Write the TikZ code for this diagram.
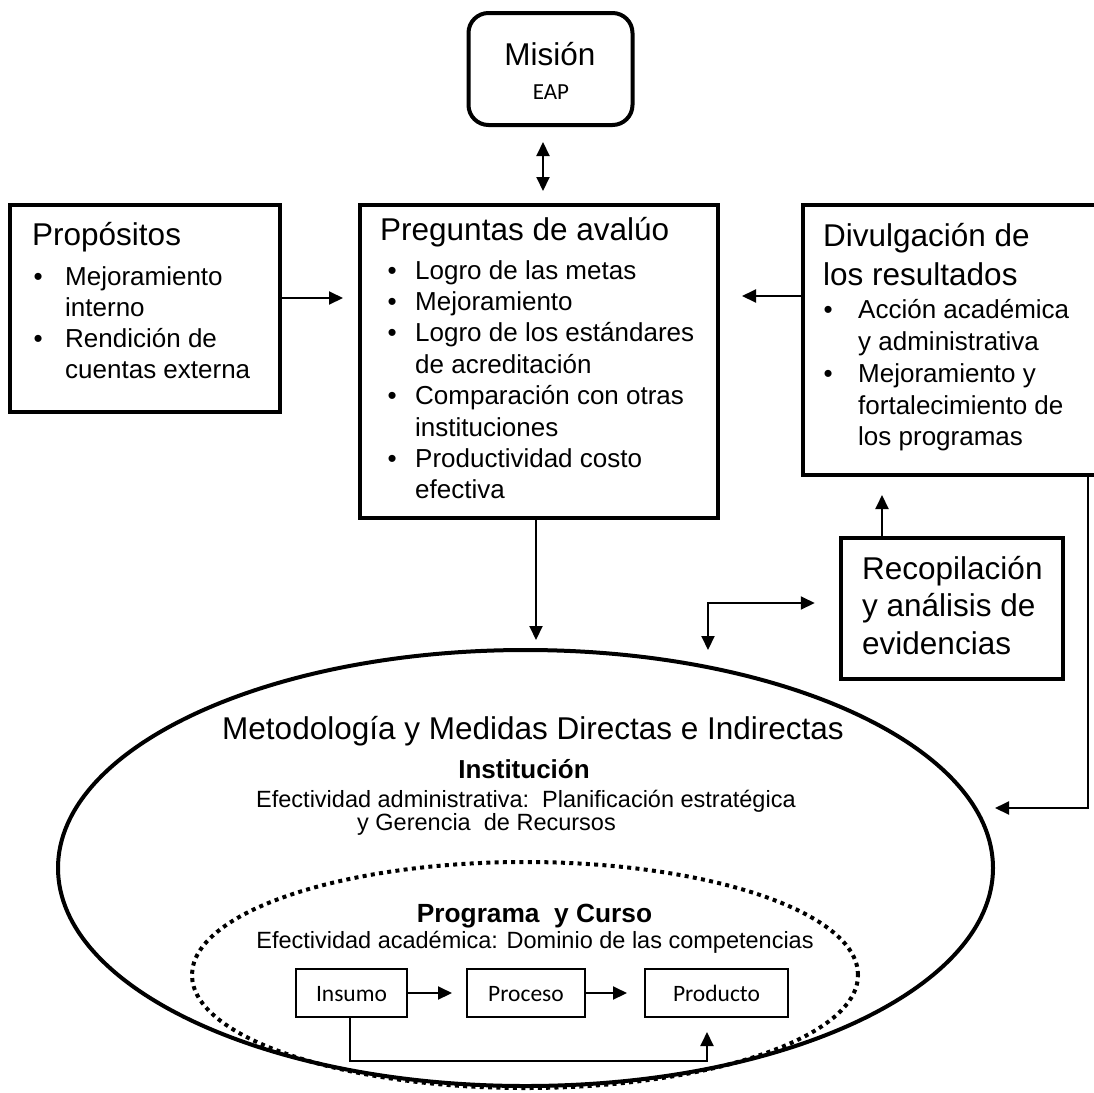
\documentclass[tikz,border=0pt]{standalone}
\usepackage{fontspec}
\setmainfont{Liberation Sans}
\newfontfamily\calfont{Carlito}
\usetikzlibrary{arrows.meta,shapes.geometric}
\newcommand{\hd}{\fontsize{31.5}{38}\selectfont}
\newcommand{\bd}{\fontsize{26}{31}\selectfont}
\newcommand{\sm}{\fontsize{23.5}{28}\selectfont}
\newcommand{\bu}[1]{\llap{•\hspace{#1pt}}}
\begin{document}
\begin{tikzpicture}[x=1pt,y=-1pt,
  thickbox/.style={draw, line width=4pt, inner sep=0pt},
  smallbox/.style={draw, line width=2pt, inner sep=0pt, minimum height=48pt, text height=16pt, text depth=0pt, font=\calfont\fontsize{23.5}{28}\selectfont},
  txt/.style={inner sep=0pt, anchor=base west},
  arr/.style={line width=2pt, -{Triangle[length=14pt,width=13pt]}},
  dbl/.style={line width=2pt, {Triangle[length=14pt,width=13pt]}-{Triangle[length=14pt,width=13pt]}}]
\useasboundingbox (0,0) rectangle (1094,1092);
\clip (0,0) rectangle (1094,1092);
\fill[white] (0,0) rectangle (1094,1092);

% boxes
\node[thickbox, rounded corners=20pt, minimum width=164pt, minimum height=112pt] (mision) at (550.5,69) {};
\node[thickbox, minimum width=270pt, minimum height=207pt] (prop) at (145,308.5) {};
\node[thickbox, minimum width=358pt, minimum height=313pt] (preg) at (539,361.5) {};
\node[thickbox, minimum width=297pt, minimum height=270pt] (divul) at (951.5,340) {};
\node[thickbox, line width=4.5pt, minimum width=222pt, minimum height=141pt] (recop) at (952,608.5) {};
\node[draw, ellipse, line width=4pt, dash pattern=on 4pt off 4.3pt, minimum width=666pt, minimum height=226pt, inner sep=0pt] (dot) at (525,975) {};
\node[draw, ellipse, line width=4pt, minimum width=935pt, minimum height=436pt, inner sep=0pt] (big) at (525.5,868) {};
\node[smallbox, minimum width=111pt] (ins) at (351.5,993) {Insumo};
\node[smallbox, minimum width=118pt] (proc) at (526,993) {Proceso};
\node[smallbox, minimum width=143pt] (prod) at (716.5,993) {Producto};

% Mision text
\node[txt, anchor=base] (misiont) at (550,65) {\hd Misión};
\node[txt, anchor=base] (eap) at (551,99) {\calfont\fontsize{23}{28}\selectfont EAP};

% Propositos text
\node[txt] (p0) at (32,245) {\hd Propósitos};
\node[txt] (p1) at (65,285) {\bd\bu{22.5}Mejoramiento};
\node[txt] (p2) at (65,316) {\bd interno};
\node[txt] (p3) at (65,347) {\bd\bu{22.5}Rendición de};
\node[txt] (p4) at (65,378) {\bd cuentas externa};

% Preguntas text
\node[txt] (q0) at (380,240) {\hd Preguntas de avalúo};
\node[txt] (q1) at (415,279) {\bd\bu{18.5}Logro de las metas};
\node[txt] (q2) at (415,310.4) {\bd\bu{18.5}Mejoramiento};
\node[txt] (q3) at (415,341.8) {\bd\bu{18.5}Logro de los estándares};
\node[txt] (q4) at (415,373.2) {\bd de acreditación};
\node[txt] (q5) at (415,404.6) {\bd\bu{18.5}Comparación con otras};
\node[txt] (q6) at (415,436) {\bd instituciones};
\node[txt] (q7) at (415,467.4) {\bd\bu{18.5}Productividad costo};
\node[txt] (q8) at (415,498.8) {\bd efectiva};

% Divulgacion text
\node[txt] (d0) at (823,246) {\hd Divulgación de};
\node[txt] (d1) at (823,285) {\hd los resultados};
\node[txt] (d2) at (858,318) {\bd\bu{25.5}Acción académica};
\node[txt] (d3) at (858,350) {\bd y administrativa};
\node[txt] (d4) at (858,382) {\bd\bu{25.5}Mejoramiento y};
\node[txt] (d5) at (858,414) {\bd fortalecimiento de};
\node[txt] (d6) at (858,445) {\bd los programas};

% Recopilacion text
\node[txt] (r0) at (862,579) {\hd Recopilación};
\node[txt] (r1) at (862,616.5) {\hd y análisis de};
\node[txt] (r2) at (862,654) {\hd evidencias};

% Ellipse texts
\node[txt, anchor=base] (m0) at (533,739) {\hd Metodología y Medidas Directas e Indirectas};
\node[txt, anchor=base] (m1) at (524,778) {\fontsize{26}{31}\selectfont\bfseries Institución};
\node[txt] (m2) at (256,807.5) {\sm Efectividad administrativa:\ \ Planificación estratégica};
\node[txt] (m3) at (357,830) {\sm y Gerencia\ \ de Recursos};
\node[txt, anchor=base] (m4) at (534.5,922) {\fontsize{26.3}{31}\selectfont\bfseries Programa\ \ y Curso};
\node[txt, anchor=base] (m5) at (535,948.5) {\sm Efectividad académica: Dominio de las competencias};

% connectors
\coordinate (elbtip) at (708,650);
\coordinate (bigtip) at (995,808);
\draw[dbl, shorten <=15pt, shorten >=12pt] ([xshift=-7.5pt]mision.south) -- ([xshift=-7.5pt]mision.south |- preg.north);
\draw[arr, shorten >=15pt] (prop.east |- 0,298) -- (preg.west |- 0,298);
\draw[arr, shorten >=22pt] (divul.west |- 0,296) -- (preg.east |- 0,296);
\draw[arr, shorten >=8pt] ([xshift=-3pt]preg.south) -- ([xshift=-3pt]preg.south |- big.north);
\draw[arr, shorten >=18pt] (recop.north -| 882,0) -- (divul.south -| 882,0);
\draw[dbl, shorten >=24pt] (elbtip) |- (recop.west |- 0,603);
\draw[arr] (divul.south -| 1088,0) |- (bigtip);
\draw[arr, shorten >=14pt] (ins.east) -- (proc.west);
\draw[arr, shorten >=17pt] (proc.east) -- (prod.west);
\draw[arr, shorten >=14pt] ([xshift=-1.5pt]ins.south) -- ([xshift=-1.5pt]ins.south |- 0,1061) -| ([xshift=-9.5pt]prod.south);
\end{tikzpicture}
\end{document}
